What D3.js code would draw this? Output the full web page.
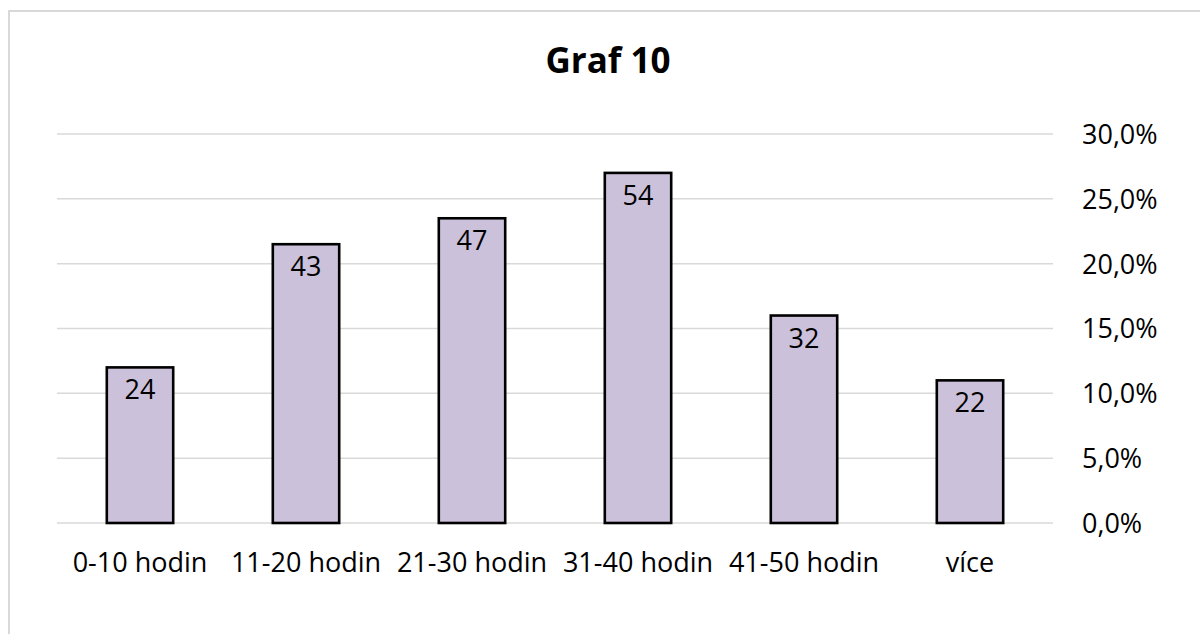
<!DOCTYPE html>
<html>
<head>
<meta charset="utf-8">
<script src="https://cdn.jsdelivr.net/npm/d3@7"></script>
<style>
  body { margin: 0; background: #fff; }
  text { font-family: "Open Sans", sans-serif; fill: #000; }
</style>
</head>
<body>
<div class="chart"></div>
<script>
var svgWidth = 1200;
var svgHeight = 634;

// data
var categories = ["0-10 hodin", "11-20 hodin", "21-30 hodin", "31-40 hodin", "41-50 hodin", "více"];
var percents = [12.0, 21.5, 23.5, 27.0, 16.0, 11.0];
var counts = [24, 43, 47, 54, 32, 22];
var yTicks = [0, 5, 10, 15, 20, 25, 30];

var plot = { left: 57, right: 1053, top: 134, bottom: 523 };

var svg = d3.select(".chart")
    .append("svg")
    .attr("width", svgWidth)
    .attr("height", svgHeight);

// chart area border
svg.append("rect")
    .attr("x", 9)
    .attr("y", 11)
    .attr("width", 1220)
    .attr("height", 700)
    .attr("fill", "none")
    .attr("stroke", "#d9d9d9")
    .attr("stroke-width", 2);

var xScale = d3.scaleBand()
    .domain(categories)
    .range([plot.left, plot.right])
    .paddingInner(0.6)
    .paddingOuter(0.3);

var yScale = d3.scaleLinear()
    .domain([0, 30])
    .range([plot.bottom, plot.top]);

// gridlines
svg.append("g")
    .selectAll("line")
    .data(yTicks)
    .join("line")
    .attr("x1", plot.left)
    .attr("x2", plot.right)
    .attr("y1", d => yScale(d))
    .attr("y2", d => yScale(d))
    .attr("stroke", "#d9d9d9")
    .attr("stroke-width", 1.5);

// right axis labels
var rightAxis = d3.axisRight(yScale)
    .tickValues(yTicks)
    .tickSize(0)
    .tickPadding(0)
    .tickFormat(d => d.toFixed(1).replace(".", ",") + "%");

var yAxis = svg.append("g")
    .attr("transform", `translate(1082,0)`)
    .call(rightAxis);
yAxis.select(".domain").remove();
yAxis.selectAll("text")
    .attr("x", 0)
    .attr("dy", "0.35em")
    .attr("font-size", "27px")
    .attr("font-family", "Open Sans, sans-serif")
    .attr("fill", "#111");

// bars
svg.append("g")
    .selectAll("rect")
    .data(categories)
    .join("rect")
    .attr("x", d => xScale(d))
    .attr("y", (d, i) => yScale(percents[i]))
    .attr("width", xScale.bandwidth())
    .attr("height", (d, i) => yScale(0) - yScale(percents[i]))
    .attr("fill", "#ccc1da")
    .attr("stroke", "#000")
    .attr("stroke-width", 2.6);

// count labels inside bars
svg.append("g")
    .selectAll("text")
    .data(categories)
    .join("text")
    .attr("x", d => xScale(d) + xScale.bandwidth() / 2)
    .attr("y", (d, i) => yScale(percents[i]) + 32)
    .attr("text-anchor", "middle")
    .attr("font-size", "27px")
    .attr("fill", "#111")
    .text((d, i) => counts[i]);

// category axis labels
var bottomAxis = d3.axisBottom(xScale).tickSize(0).tickPadding(0);
var xAxis = svg.append("g")
    .attr("transform", `translate(0,${plot.bottom})`)
    .call(bottomAxis);
xAxis.select(".domain").remove();
xAxis.selectAll("text")
    .attr("y", 49)
    .attr("dy", 0)
    .attr("font-size", "27px")
    .attr("font-family", "Open Sans, sans-serif")
    .attr("fill", "#111");

// title
svg.append("text")
    .attr("x", 608)
    .attr("y", 73)
    .attr("text-anchor", "middle")
    .attr("font-size", "35px")
    .attr("font-weight", "bold")
    .text("Graf 10");
</script>
</body>
</html>
